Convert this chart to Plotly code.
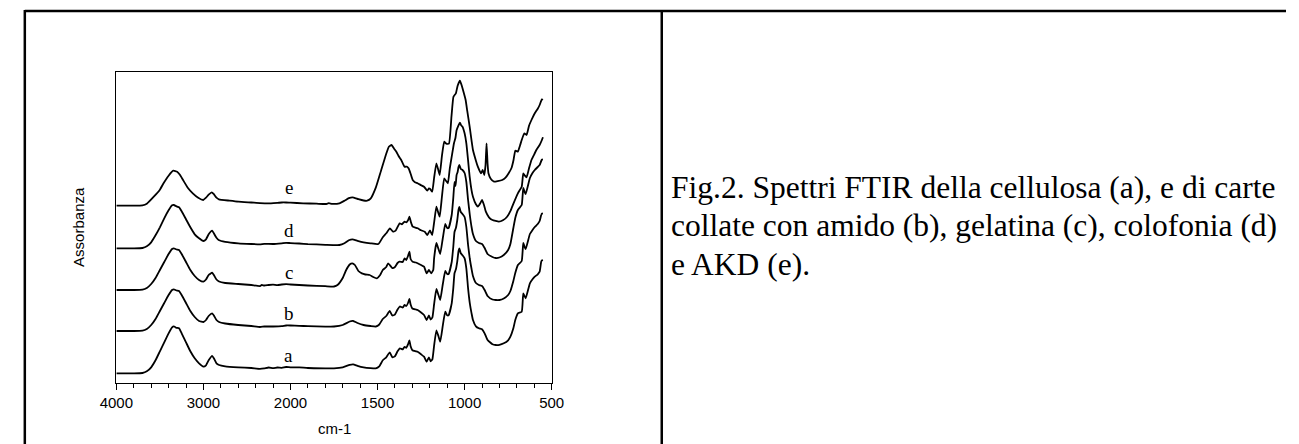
import plotly.graph_objects as go

W, H = 1299, 444

# ---------------- data (wavenumber cm-1, absorbance a.u. above each curve's baseline) ----------------
labels = ["a", "b", "c", "d", "e"]
offsets = [0.094, 0.517, 0.927, 1.344, 1.770]

wn_a = [4000, 3800, 3700, 3650, 3600, 3550, 3500, 3450, 3400, 3360, 3340, 3310, 3280, 3250, 3200, 3150, 3100, 3050,
        3000, 2970, 2940, 2900, 2880, 2850, 2820, 2750, 2600, 2450, 2350, 2300, 2250, 2200, 2150, 2100, 2050, 2000,
        1950, 1900, 1800, 1750, 1700, 1660, 1640, 1615, 1580, 1540, 1510, 1490, 1470, 1450, 1430, 1415, 1400, 1385,
        1372, 1355, 1345, 1335, 1325, 1317, 1310, 1300, 1280, 1270, 1250, 1233, 1218, 1205, 1195, 1185, 1175, 1162,
        1150, 1140, 1125, 1111, 1100, 1092, 1074, 1065, 1058, 1050, 1042, 1035, 1030, 1022, 1012, 1000, 990, 980,
        970, 960, 952, 935, 918, 900, 885, 868, 840, 821, 800, 775, 750, 737, 720, 709, 694, 672, 663, 655, 649,
        625, 610, 597, 580, 569, 560, 555, 550]
abs_a = [0, 0, 0.3, 2, 6, 13, 22, 31, 40, 46, 47, 45.5, 45, 40, 31, 22, 15, 10,
         6.7, 8, 13, 17.5, 15, 10, 8.3, 7, 6, 5.3, 4.5, 5, 5.8, 5.2, 5.8, 5.5, 6.3, 6,
         6, 5.3, 5, 5, 6, 8.5, 9, 7.5, 6, 5.2, 5, 7, 13, 16, 21, 16, 17, 22,
         25, 24, 26.5, 25.5, 29, 33, 27, 23, 22, 21.5, 19, 16.6, 11.6, 16, 12, 14, 28, 43,
         37, 31.6, 48, 61.6, 58, 58, 70, 85, 100, 104, 112, 122, 125, 120, 118, 115, 105, 85,
         70, 60, 53.3, 47, 45, 44, 40, 33.3, 29, 28.3, 28.5, 30, 33, 36.6, 45, 53.3, 60, 61.6, 80, 77, 75,
         90, 94, 96.6, 99, 101.6, 111.6, 113, 113.3]

wn_b = [4000, 3800, 3700, 3650, 3600, 3550, 3500, 3450, 3400, 3360, 3340, 3310, 3280, 3250, 3200, 3150, 3100, 3050,
        3000, 2970, 2940, 2900, 2880, 2850, 2820, 2750, 2600, 2450, 2350, 2300, 2200, 2100, 2050, 2000,
        1950, 1900, 1800, 1750, 1700, 1660, 1640, 1615, 1580, 1540, 1510, 1490, 1470, 1450, 1430, 1415, 1400, 1385,
        1372, 1355, 1345, 1335, 1325, 1317, 1310, 1300, 1280, 1270, 1250, 1233, 1218, 1205, 1195, 1185, 1175, 1162,
        1150, 1140, 1125, 1111, 1100, 1092, 1074, 1065, 1058, 1050, 1042, 1035, 1030, 1022, 1012, 1000, 990, 980,
        970, 960, 952, 935, 918, 900, 885, 868, 840, 821, 800, 775, 750, 737, 720, 709, 694, 672, 663, 655, 649,
        625, 610, 597, 580, 569, 560, 555, 550]
abs_b = [0, 0, 0.3, 2, 6, 12, 20, 28, 36, 41, 41.7, 40.5, 40, 36, 28, 20, 14, 10,
         9, 11, 15, 17.7, 15.5, 11, 9, 7.5, 6, 5, 4, 4.5, 4.5, 4.8, 5.5, 5.5,
         5.2, 4.8, 4.3, 4.5, 6, 9.5, 10, 8, 6, 5, 4.5, 6.5, 12, 15, 20, 15.5, 16.5, 21.5,
         24.5, 23.5, 26, 25, 28, 32, 26.5, 22.5, 21.5, 21, 18.5, 16, 11, 15.5, 11.5, 13.5, 27, 42,
         36, 31, 47, 60, 57, 57, 69, 84, 99, 103, 111, 121, 124, 119, 117, 114, 104, 86,
         72, 62, 55, 48, 46, 45, 41, 35, 31.5, 31, 31, 32.5, 36, 40, 50, 58, 66, 70, 88, 84, 82,
         97, 101, 104, 107, 110, 116, 117.5, 117.7]

wn_c = [4000, 3800, 3700, 3650, 3600, 3550, 3500, 3450, 3400, 3360, 3340, 3310, 3280, 3250, 3200, 3150, 3100, 3050,
        3000, 2970, 2940, 2900, 2880, 2850, 2820, 2750, 2600, 2450, 2350, 2330, 2300, 2250, 2200, 2150, 2100, 2050,
        2000, 1950, 1900, 1800, 1750, 1730, 1700, 1680, 1660, 1645, 1630, 1610, 1590, 1570, 1545, 1525, 1504, 1485,
        1470, 1450, 1439, 1415, 1400, 1385, 1373, 1355, 1345, 1335, 1325, 1317, 1310, 1298, 1280, 1270, 1250, 1233,
        1218, 1205, 1192, 1180, 1175, 1162, 1150, 1140, 1125, 1111, 1100, 1092, 1074, 1065, 1058, 1052, 1046, 1040,
        1035, 1030, 1022, 1012, 1000, 990, 980, 970, 960, 952, 935, 918, 900, 885, 868, 840, 821, 800, 775, 750,
        737, 720, 709, 694, 672, 663, 655, 649, 625, 610, 597, 580, 569, 560, 555, 550]
abs_c = [0, 0, 0.3, 2, 6, 12, 20, 28, 36, 41, 41.7, 40.5, 40, 36, 28, 20, 14, 10,
         8.3, 10.5, 15, 17.3, 15, 10.5, 8.5, 7, 6, 5, 4, 5, 4.5, 5, 5.3, 4.8, 5.5, 5.8,
         5.5, 5, 4.5, 3.8, 3.5, 5, 12, 20, 25.5, 26.7, 25, 19, 16.6, 15.5, 15, 13, 11.7, 15,
         20, 23, 26.7, 22, 23, 27, 28.3, 28, 31.7, 30, 34, 38.3, 31, 28.3, 27.5, 26.7, 25, 23.3,
         16.7, 20, 16.7, 20, 32, 47, 41, 36, 52, 66, 62, 62, 75, 92, 108, 104, 115, 118,
         123, 125, 121, 120, 117, 108, 90, 75, 63, 56, 49, 47, 46, 42, 36, 33, 32, 32.5, 35, 40,
         46, 62, 72, 80, 85, 102, 98, 96, 112, 117, 120, 123, 125, 129, 130.5, 130.7]

wn_d = [4000, 3800, 3700, 3650, 3600, 3550, 3500, 3450, 3400, 3360, 3340, 3310, 3280, 3250, 3200, 3150, 3100, 3050,
        3000, 2970, 2940, 2900, 2880, 2850, 2820, 2750, 2600, 2450, 2350, 2300, 2200, 2100, 2050, 2000,
        1950, 1900, 1800, 1719, 1690, 1665, 1644, 1615, 1580, 1540, 1495, 1470, 1450, 1429, 1411, 1395, 1373, 1360,
        1345, 1335, 1325, 1317, 1308, 1298, 1270, 1250, 1229, 1214, 1199, 1186, 1175, 1162, 1150, 1143, 1130, 1117,
        1105, 1096, 1085, 1074, 1061, 1053, 1046, 1035, 1027, 1020, 1012, 1000, 990, 980, 971, 960, 952, 935, 924,
        910, 900, 890, 878, 860, 840, 803, 780, 756, 735, 719, 694, 672, 663, 655, 644, 630, 616, 600, 588, 570,
        556, 550]
abs_d = [0, 0, 0.3, 2, 6, 13, 21, 30, 38, 43, 43.3, 42, 41, 37, 29, 21, 14, 10,
         7.3, 9, 14, 17.6, 15, 10.5, 8, 6.5, 5, 4.3, 4, 4.5, 4.3, 5, 5.5, 5.2,
         4.8, 4.2, 3.5, 3.3, 5, 8, 9, 7.5, 6, 5, 4.3, 11, 15, 20, 16.6, 18, 25, 24,
         26.6, 26, 28, 31.6, 26, 21.6, 20, 18, 16.6, 13.3, 18, 13.3, 26, 41.6, 35, 31.6, 52, 70,
         67, 65, 80, 91.6, 105, 110, 118, 123, 125.6, 123, 121.6, 115, 105, 88, 71.6, 58, 51.6, 44, 41.6,
         45, 48.3, 44, 36.6, 31, 28.3, 26.6, 28, 31.6, 38, 45, 55, 61.6, 75, 73, 71, 80, 88.3, 94, 98.3, 103,
         108.3, 111]

wn_e = [4000, 3800, 3700, 3650, 3570, 3500, 3458, 3400, 3346, 3302, 3270, 3234, 3180, 3122, 3060, 3002, 2970, 2940,
        2905, 2880, 2850, 2822, 2700, 2598, 2450, 2350, 2224, 2150, 2100, 2050, 2000, 1927, 1850, 1794, 1780, 1760,
        1719, 1690, 1665, 1644, 1610, 1580, 1560, 1540, 1510, 1480, 1450, 1435, 1420, 1405, 1392, 1380, 1364, 1345,
        1330, 1322, 1310, 1298, 1285, 1270, 1250, 1233, 1214, 1205, 1199, 1186, 1175, 1162, 1150, 1143, 1130, 1117,
        1105, 1090, 1075, 1064, 1050, 1040, 1027, 1018, 1012, 994, 985, 971, 960, 952, 935, 924, 906, 896, 887, 880,
        874, 868, 863, 850, 831, 810, 784, 765, 747, 730, 719, 709, 700, 694, 682, 672, 657, 644, 630, 616, 597, 580,
        569, 556, 550]
abs_e = [0, 0, 0.3, 2, 9, 16, 22.4, 30, 35, 34, 31, 25.7, 18, 12.4, 8, 5.7, 8, 11,
         13.4, 11.5, 8, 6.4, 5, 4, 3.2, 2.6, 2.4, 2.8, 3.2, 3.2, 3, 2.4, 2, 1.7, 2.5, 1.8,
         2.4, 5, 7.5, 8.4, 6.5, 5.2, 5, 7, 18, 35, 52, 59, 60.7, 57, 54, 50, 45.7, 39,
         39, 37.4, 32, 25.7, 23.5, 22.4, 20.5, 19, 15, 17.4, 17, 14, 28, 42.4, 35, 30.7, 50, 64,
         62, 62, 90, 109, 112.4, 120, 125, 121, 117.4, 105.7, 95, 79, 65, 55.7, 45, 39, 32.4, 35.7, 30.7, 40,
         62.4, 42, 32.4, 27, 24, 24.5, 25.7, 28, 32.4, 38, 45.7, 55, 54.5, 54, 60, 65.7, 72.4, 70.7, 80, 85.7, 92.4, 97,
         100.7, 106.4, 106]

series_wn = [wn_a, wn_b, wn_c, wn_d, wn_e]
series_abs = [abs_a, abs_b, abs_c, abs_d, abs_e]

tick_labels = ["4000", "3000", "2000", "1500", "1000", "500"]
tick_wn = [4000, 3000, 2000, 1500, 1000, 500]
label_wn = 2020  # position of the curve letters


def axis_u(w):
    """Split x scale: 4000-2000 cm-1 drawn at half the scale of 2000-500 cm-1."""
    return w if w <= 2000 else 2000 + (w - 2000) / 2.0


fig = go.Figure()
for wn, ab, off in zip(series_wn, series_abs, offsets):
    fig.add_trace(go.Scatter(
        x=[axis_u(w) for w in wn],
        y=[off + v / 100.0 for v in ab],
        mode="lines",
        line=dict(color="black", width=1.8, shape="spline", smoothing=0.4),
        showlegend=False, hoverinfo="skip"))

# geometry (pixels)
pl, pr, pt, pb = 101.7, 547.3, 72.0, 382.7

annotations = []
for lab, off in zip(labels, offsets):
    annotations.append(dict(x=axis_u(label_wn), y=off + 0.18, xref="x", yref="y", text=lab,
                            showarrow=False, font=dict(family="Liberation Serif", size=19, color="black"),
                            xanchor="center", yanchor="middle"))

annotations.append(dict(x=(pl + pr) / 2 / W, y=1 - 428 / H, xref="paper", yref="paper", text="cm-1",
                        showarrow=False, font=dict(family="Liberation Sans", size=15, color="black"),
                        xanchor="center", yanchor="middle"))
annotations.append(dict(x=63 / W, y=1 - (pt + pb) / 2 / H, xref="paper", yref="paper", text="Assorbanza",
                        textangle=-90, showarrow=False,
                        font=dict(family="Liberation Sans", size=15, color="black"),
                        xanchor="center", yanchor="middle"))

caption = ["Fig.2. Spettri FTIR della cellulosa (a), e di carte",
           "collate con amido (b), gelatina (c), colofonia (d)",
           "e AKD (e)."]
caption_y = [187, 225, 264]
for line, yy in zip(caption, caption_y):
    annotations.append(dict(x=667 / W, y=1 - yy / H, xref="paper", yref="paper", text=line,
                            showarrow=False, font=dict(family="Liberation Serif", size=31.5, color="black"),
                            xanchor="left", yanchor="middle"))

shapes = [
    dict(type="line", xref="paper", yref="paper", x0=8 / W, x1=1, y0=1 - 11 / H, y1=1 - 11 / H,
         line=dict(color="black", width=2.5)),
    dict(type="line", xref="paper", yref="paper", x0=8 / W, x1=8 / W, y0=1 - 10 / H, y1=0,
         line=dict(color="black", width=2.5)),
    dict(type="line", xref="paper", yref="paper", x0=660 / W, x1=660 / W, y0=1 - 10 / H, y1=0,
         line=dict(color="black", width=2.5)),
]

fig.update_layout(
    width=W, height=H,
    margin=dict(l=0, r=0, t=0, b=0),
    paper_bgcolor="white", plot_bgcolor="white",
    annotations=annotations, shapes=shapes,
    xaxis=dict(domain=[pl / W, pr / W], range=[axis_u(4000), axis_u(500)],
               tickmode="array", tickvals=[axis_u(w) for w in tick_wn], ticktext=tick_labels,
               ticks="outside", ticklen=6, tickwidth=1, tickcolor="black",
               minor=dict(tickmode="array", tickvals=list(range(500, 3001, 100)),
                          ticks="outside", ticklen=4, tickwidth=1, tickcolor="black"),
               showline=True, linecolor="black", linewidth=1, mirror=True,
               showgrid=False, zeroline=False,
               tickfont=dict(family="Liberation Sans", size=15, color="black")),
    yaxis=dict(domain=[1 - pb / H, 1 - pt / H], range=[0, (pb - pt) / 100.0],
               showticklabels=False, ticks="", showline=True, linecolor="black", linewidth=1,
               mirror=True, showgrid=False, zeroline=False),
)

fig.write_html("out.html")
